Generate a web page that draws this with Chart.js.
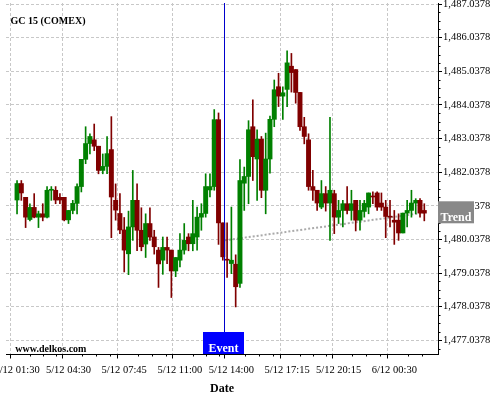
<!DOCTYPE html>
<html>
<head>
<meta charset="utf-8">
<script src="https://cdn.jsdelivr.net/npm/chart.js@4"></script>
<style>
  html, body { margin: 0; padding: 0; background: #fff; overflow: hidden; width: 500px; height: 400px; }
  /* canvas is a bit larger than the window so the first date label can run off the left edge */
  #wrap { position: absolute; left: -40px; top: -10px; width: 540px; height: 410px; }
</style>
</head>
<body>
<div id="wrap"><canvas id="chart"></canvas></div>
<script>
// 15 minute candles, GC 15 (COMEX)
const open = [
  1481.21, 1481.70, 1481.29, 1480.63, 1480.99, 1480.70, 1480.80, 1480.70, 1481.50, 1481.50,
  1481.29, 1481.29, 1480.62, 1480.90, 1481.11, 1481.61, 1482.42, 1482.89, 1483.00, 1482.81,
  1482.09, 1482.21, 1482.71, 1481.20, 1480.81, 1480.32, 1479.61, 1480.41, 1481.20, 1480.31,
  1479.90, 1480.51, 1480.11, 1479.72, 1479.42, 1479.80, 1479.72, 1479.10, 1479.42, 1479.72,
  1480.11, 1479.91, 1480.11, 1480.70, 1480.81, 1481.51, 1481.61, 1483.60, 1480.53, 1479.45,
  1479.32, 1479.30, 1478.73, 1481.71, 1481.91, 1483.39, 1482.43, 1483.02, 1481.50, 1482.43,
  1483.61, 1484.58, 1484.30, 1484.50, 1485.19, 1485.09, 1484.41, 1483.39, 1483.00, 1481.61,
  1481.50, 1481.00, 1481.40, 1481.12, 1481.40, 1480.70, 1480.90, 1481.10, 1480.90, 1481.20,
  1480.61, 1480.87, 1481.00, 1481.32, 1481.42, 1481.12, 1481.00, 1480.72, 1480.61, 1480.61,
  1480.23, 1480.82, 1480.90, 1481.12, 1481.20, 1480.90
];
const high = [
  1481.79, 1481.79, 1481.29, 1481.10, 1481.40, 1480.88, 1481.10, 1481.61, 1481.61, 1481.61,
  1481.40, 1481.29, 1480.90, 1481.20, 1481.69, 1482.42, 1483.39, 1483.18, 1483.47, 1482.81,
  1482.58, 1483.10, 1483.69, 1481.69, 1481.40, 1480.69, 1480.88, 1482.09, 1481.69, 1480.98,
  1480.80, 1480.98, 1480.31, 1479.80, 1480.11, 1480.11, 1479.72, 1479.50, 1480.21, 1480.51,
  1480.21, 1481.20, 1481.00, 1481.10, 1481.99, 1481.99, 1483.90, 1483.80, 1480.53, 1480.53,
  1481.00, 1479.58, 1482.41, 1482.19, 1483.57, 1484.19, 1483.30, 1483.10, 1483.20, 1483.71,
  1484.78, 1484.98, 1484.58, 1485.65, 1485.57, 1485.09, 1484.41, 1483.67, 1483.18, 1482.09,
  1481.50, 1481.79, 1481.61, 1483.67, 1481.50, 1481.20, 1481.20, 1481.61, 1481.50, 1481.20,
  1481.20, 1481.20, 1481.42, 1481.45, 1481.45, 1481.42, 1481.20, 1481.20, 1480.90, 1480.80,
  1480.82, 1481.20, 1481.50, 1481.25, 1481.25, 1481.10
];
const low = [
  1480.80, 1481.20, 1480.39, 1480.59, 1480.68, 1480.39, 1480.59, 1480.68, 1481.20, 1481.10,
  1481.10, 1480.59, 1480.51, 1480.80, 1480.80, 1481.45, 1482.29, 1482.58, 1482.68, 1481.99,
  1481.99, 1481.99, 1480.09, 1480.61, 1480.21, 1479.07, 1478.99, 1480.01, 1479.70, 1479.70,
  1479.50, 1480.01, 1479.60, 1478.61, 1479.00, 1479.32, 1478.31, 1478.93, 1479.22, 1479.60,
  1479.70, 1479.70, 1479.72, 1480.31, 1480.70, 1481.30, 1481.50, 1479.89, 1479.42, 1478.91,
  1479.02, 1478.03, 1478.61, 1480.90, 1481.10, 1481.79, 1481.20, 1481.28, 1480.80, 1482.01,
  1483.39, 1483.99, 1483.61, 1483.99, 1484.42, 1484.09, 1483.28, 1482.88, 1481.50, 1481.20,
  1480.90, 1480.95, 1480.88, 1480.01, 1480.21, 1480.51, 1480.41, 1480.80, 1480.61, 1480.29,
  1480.31, 1480.70, 1480.80, 1481.10, 1480.90, 1480.90, 1480.09, 1480.41, 1479.89, 1480.01,
  1480.23, 1480.41, 1480.70, 1480.80, 1480.70, 1480.59
];
const close = [
  1481.70, 1481.42, 1480.70, 1480.99, 1480.70, 1480.80, 1480.70, 1481.50, 1481.53, 1481.21,
  1481.21, 1480.62, 1480.90, 1481.11, 1481.61, 1482.42, 1482.89, 1483.10, 1482.81, 1482.09,
  1482.21, 1482.59, 1481.30, 1480.91, 1480.32, 1479.72, 1480.41, 1481.20, 1480.31, 1479.82,
  1480.51, 1480.11, 1479.82, 1479.31, 1479.80, 1479.72, 1479.10, 1479.50, 1479.72, 1480.01,
  1479.91, 1480.21, 1480.70, 1480.81, 1481.61, 1481.61, 1483.60, 1480.53, 1479.52, 1479.42,
  1479.42, 1478.63, 1481.79, 1481.91, 1483.30, 1482.50, 1483.02, 1481.50, 1482.43, 1483.61,
  1484.49, 1484.30, 1484.40, 1485.29, 1485.00, 1484.41, 1483.39, 1483.10, 1481.61, 1481.50,
  1481.12, 1481.40, 1481.12, 1481.50, 1480.70, 1480.90, 1481.10, 1480.90, 1481.10, 1480.61,
  1480.90, 1481.11, 1481.42, 1481.30, 1481.00, 1481.00, 1480.72, 1480.70, 1480.55, 1480.23,
  1480.82, 1480.90, 1481.12, 1481.20, 1480.82, 1480.82
];

// date axis labels (candle index -> text)
const xTickPos = [0, 12, 25, 38, 50, 63, 75, 88];
const xTickText = ['5/12 01:30', '5/12 04:30', '5/12 07:45', '5/12 11:00',
                   '5/12 14:00', '5/12 17:15', '5/12 20:15', '6/12 00:30'];

// price axis labels
const yMajor = [1477.0378, 1478.0378, 1479.0378, 1480.0378, 1481.0378, 1482.0378,
                1483.0378, 1484.0378, 1485.0378, 1486.0378, 1487.0378];

// event marker and trend line
const eventAt = 48.2;
const trendX = [48.5, 95];
const trendY = [1480.01, 1480.83];

const green = '#008000';
const red = '#800000';
const serif = '"Liberation Serif", "Times New Roman", serif';

// minor tick marks between the labelled ones
const xTickList = [];
xTickPos.forEach((p, k) => {
  xTickList.push(p);
  const next = k < xTickPos.length - 1 ? xTickPos[k + 1] : p + 13;
  for (let j = 1; j < 4; j++) {
    const v = p + (next - p) * j / 4;
    if (v < 96.5) xTickList.push(v);
  }
});
const yTickList = [yMajor[0] - 0.25];
yMajor.forEach(m => {
  yTickList.push(m);
  if (m < 1487) yTickList.push(m + 0.25, m + 0.5, m + 0.75);
});

const isXMajor = v => xTickPos.indexOf(v) >= 0;
const isYMajor = v => yMajor.some(m => Math.abs(m - v) < 1e-6);
const candleColor = ctx => close[ctx.dataIndex] >= open[ctx.dataIndex] ? green : red;

const overlay = {
  id: 'overlay',
  afterDatasetsDraw(chart) {
    const { ctx, chartArea: a, scales: { x, y } } = chart;
    ctx.save();

    // short minor ticks
    ctx.strokeStyle = '#000';
    ctx.lineWidth = 1;
    ctx.beginPath();
    xTickList.filter(v => !isXMajor(v)).forEach(v => {
      const px = Math.round(x.getPixelForValue(v)) + 0.5;
      ctx.moveTo(px, a.bottom);
      ctx.lineTo(px, a.bottom + 2.5);
    });
    yTickList.filter(v => !isYMajor(v)).forEach(v => {
      const py = Math.round(y.getPixelForValue(v)) + 0.5;
      ctx.moveTo(a.right, py);
      ctx.lineTo(a.right + 2.5, py);
    });
    ctx.stroke();

    // title + site name
    ctx.fillStyle = '#000';
    ctx.textAlign = 'left';
    ctx.textBaseline = 'alphabetic';
    ctx.font = 'bold 10px ' + serif;
    ctx.fillText('GC 15 (COMEX)', a.left + 4.5, a.top + 21);
    ctx.fillText('www.delkos.com', a.left + 9.3, a.bottom - 1.7);

    // event line + box
    const ex = Math.round(x.getPixelForValue(eventAt)) + 0.5;
    ctx.strokeStyle = '#0000cc';
    ctx.beginPath();
    ctx.moveTo(ex, a.top);
    ctx.lineTo(ex, a.bottom);
    ctx.stroke();
    ctx.fillStyle = '#0000ff';
    ctx.fillRect(ex - 21.5, a.bottom - 22, 41, 22);
    ctx.fillStyle = '#fff';
    ctx.textAlign = 'center';
    ctx.font = 'bold 12px ' + serif;
    ctx.fillText('Event', ex - 1, a.bottom - 2.5);

    // trend label on the price axis
    const ty = y.getPixelForValue(trendY[trendY.length - 1]) - 0.5;
    ctx.fillStyle = '#888888';
    ctx.fillRect(a.right, ty - 11, 36, 22);
    ctx.fillStyle = '#fff';
    ctx.fillText('Trend', a.right + 18, ty + 9);
    ctx.restore();
  }
};

new Chart(document.getElementById('chart'), {
  type: 'bar',
  data: {
    datasets: [
      {
        label: 'wick',
        data: open.map((o, i) => ({ x: i, y: [low[i], high[i]] })),
        backgroundColor: candleColor,
        barThickness: 1,
        grouped: false,
        order: 2
      },
      {
        label: 'body',
        data: open.map((o, i) => ({ x: i, y: [o, close[i]] })),
        backgroundColor: candleColor,
        barPercentage: 1,
        categoryPercentage: 1,
        minBarLength: 1,
        grouped: false,
        order: 1
      },
      {
        type: 'line',
        label: 'Trend',
        data: trendX.map((v, i) => ({ x: v, y: trendY[i] })),
        borderColor: '#aaaaaa',
        borderWidth: 2,
        borderDash: [2, 2],
        pointRadius: 0,
        order: 3
      }
    ]
  },
  options: {
    responsive: true,
    maintainAspectRatio: false,
    animation: false,
    layout: { padding: { left: 46, top: 13, right: 0, bottom: 0 } },
    plugins: {
      legend: { display: false },
      tooltip: { enabled: false }
    },
    scales: {
      x: {
        type: 'linear',
        min: -0.95,
        max: 96.57,
        afterBuildTicks: s => { s.ticks = xTickList.map(v => ({ value: v })); },
        afterFit: s => { s.height = 46; },
        grid: {
          color: c => (c.tick && isXMajor(c.tick.value)) ? '#c8c8c8' : 'rgba(0,0,0,0)',
          tickColor: c => (c.tick && isXMajor(c.tick.value)) ? '#000' : 'rgba(0,0,0,0)',
          tickLength: 4.5
        },
        border: { color: '#000', width: 1, dash: [3, 2] },
        ticks: {
          autoSkip: false,
          maxRotation: 0,
          padding: 5.5,
          color: '#000',
          font: { family: serif, size: 10.5 },
          callback: v => {
            const k = xTickPos.indexOf(v);
            return k >= 0 ? xTickText[k] : '';
          }
        },
        title: {
          display: true,
          text: 'Date',
          color: '#000',
          font: { family: serif, size: 12, weight: 'bold' },
          padding: { top: 4, bottom: 4 }
        }
      },
      y: {
        position: 'right',
        min: 1476.63,
        max: 1487.07,
        afterBuildTicks: s => { s.ticks = yTickList.map(v => ({ value: v })); },
        afterFit: s => { s.width = 62; },
        grid: {
          color: c => (c.tick && isYMajor(c.tick.value)) ? '#c8c8c8' : 'rgba(0,0,0,0)',
          tickColor: c => (c.tick && isYMajor(c.tick.value)) ? '#000' : 'rgba(0,0,0,0)',
          tickLength: 4
        },
        border: { color: '#000', width: 1, dash: [3, 2] },
        ticks: {
          autoSkip: false,
          padding: 1,
          color: '#000',
          font: { family: serif, size: 10.5 },
          callback: v => isYMajor(v)
            ? v.toLocaleString('en-US', { minimumFractionDigits: 4, maximumFractionDigits: 4 })
            : ''
        }
      }
    }
  },
  plugins: [overlay]
});
</script>
</body>
</html>
